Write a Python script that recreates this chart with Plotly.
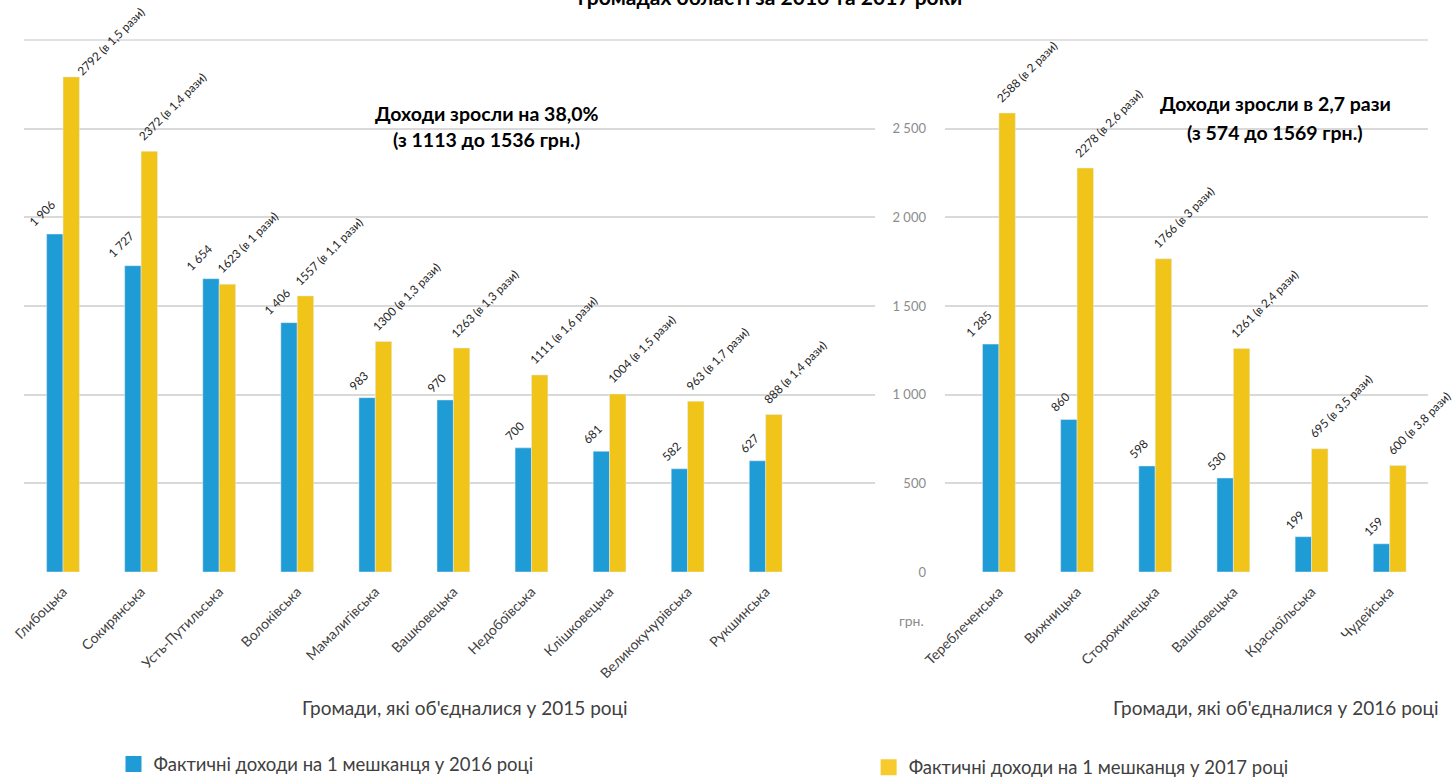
import plotly.graph_objects as go

# ---------------- data ----------------
cats_2015 = ["Глибоцька", "Сокирянська", "Усть-Путильська", "Волоківська", "Мамалигівська",
             "Вашковецька", "Недобоївська", "Клішковецька", "Великокучурівська", "Рукшинська"]
inc2016_a = [1906, 1727, 1654, 1406, 983, 970, 700, 681, 582, 627]
inc2017_a = [2792, 2372, 1623, 1557, 1300, 1263, 1111, 1004, 963, 888]
ratio_a = ["1,5", "1,4", "1", "1,1", "1,3", "1,3", "1,6", "1,5", "1,7", "1,4"]

cats_2016 = ["Тереблеченська", "Вижницька", "Сторожинецька", "Вашковецька", "Красноїльська", "Чудейська"]
inc2016_b = [1285, 860, 598, 530, 199, 159]
inc2017_b = [2588, 2278, 1766, 1261, 695, 600]
ratio_b = ["2", "2,6", "3", "2,4", "3,5", "3,8"]

y_ticks = [0, 500, 1000, 1500, 2000, 2500]
y_ticktext = ["0", "500", "1 000", "1 500", "2 000", "2 500"]

name_2016 = "Фактичні доходи на 1 мешканця у 2016 році"
name_2017 = "Фактичні доходи на 1 мешканця у 2017 році"

# ---------------- style ----------------
BLUE = "#1F9BD6"
YELLOW = "#F0C419"
GRID = "#D9D9D9"
FONT = "Lato"
TXT = "#404040"
Y_MAX = 3000

fig = go.Figure()

fig.add_trace(go.Bar(x=cats_2015, y=inc2016_a, name=name_2016, marker_color=BLUE,
                     xaxis="x", yaxis="y", showlegend=False, hoverinfo="x+y"))
fig.add_trace(go.Bar(x=cats_2015, y=inc2017_a, name=name_2017, marker_color=YELLOW,
                     xaxis="x", yaxis="y", showlegend=False, hoverinfo="x+y"))
fig.add_trace(go.Bar(x=cats_2016, y=inc2016_b, name=name_2016, marker_color=BLUE,
                     xaxis="x2", yaxis="y2", showlegend=False, hoverinfo="x+y"))
fig.add_trace(go.Bar(x=cats_2016, y=inc2017_b, name=name_2017, marker_color=YELLOW,
                     xaxis="x2", yaxis="y2", showlegend=False, hoverinfo="x+y"))

# legend entries (square swatches, no marks on the plot)
fig.add_trace(go.Scatter(x=[None], y=[None], mode="markers", name=name_2016, legend="legend",
                         marker=dict(symbol="square", size=16, color=BLUE), xaxis="x", yaxis="y"))
fig.add_trace(go.Scatter(x=[None], y=[None], mode="markers", name=name_2017, legend="legend2",
                         marker=dict(symbol="square", size=16, color="#F7CB2D"), xaxis="x", yaxis="y"))


def fmt(v):
    return f"{v:,}".replace(",", " ")


annotations = []
lab_font = dict(family=FONT, size=11.8, color="#262626")


def add_labels(cats, v16, v17, ratios, xr, yr):
    for c, a, b, r in zip(cats, v16, v17, ratios):
        annotations.append(dict(x=c, y=a, xref=xr, yref=yr, text=fmt(a), textangle=-45,
                                xanchor="right", yanchor="bottom", xshift=-1, yshift=2,
                                showarrow=False, font=lab_font))
        # labels of bars reaching close to the top are nudged right/down (as in the original)
        near_top = b > 0.9 * Y_MAX
        annotations.append(dict(x=c, y=b, xref=xr, yref=yr, text=f"{b} (в {r} рази)", textangle=-45,
                                xanchor="left", yanchor="bottom",
                                xshift=8 if near_top else -8, yshift=-4 if near_top else 5,
                                showarrow=False, font=lab_font))


add_labels(cats_2015, inc2016_a, inc2017_a, ratio_a, "x", "y")
add_labels(cats_2016, inc2016_b, inc2017_b, ratio_b, "x2", "y2")

bold = dict(family=FONT, size=19.5, color="#000000")


def note(x, y, text, font, **kw):
    d = dict(x=x, y=y, xref="paper", yref="paper", text=text, showarrow=False,
             xanchor="center", yanchor="middle", font=font)
    d.update(kw)
    return d


annotations += [
    note(0.3347, 0.8549, "<b>Доходи зросли на 38,0%</b>", bold),
    note(0.3347, 0.8203, "<b>(з 1113 до 1536 грн.)</b>", bold),
    note(0.8763, 0.8665, "<b>Доходи зросли в 2,7 рази</b>", bold),
    note(0.8763, 0.8293, "<b>(з 574 до 1569 грн.)</b>", bold),
    note(0.3196, 0.0924, "Громади, які об'єдналися у 2015 році", dict(family=FONT, size=19, color=TXT)),
    note(0.877, 0.0924, "Громади, які об'єдналися у 2016 році", dict(family=FONT, size=19, color=TXT)),
    note(0.6268, 0.2041, "грн.", dict(family=FONT, size=14, color="#8C8C8C")),
    note(0.529, 1.0, "<b>громадах області за 2016 та 2017 роки</b>",
         dict(family=FONT, size=21, color="#000000"), yanchor="bottom", yshift=-11),
]

ydom = [0.26573, 0.94865]
common_y = dict(range=[0, Y_MAX], tickvals=y_ticks, ticktext=y_ticktext, showgrid=True,
                gridcolor=GRID, gridwidth=1.5, zeroline=False, showline=False, fixedrange=True,
                automargin=False)
common_x = dict(type="category", tickangle=-45, showgrid=False, showline=False, ticks="",
                ticklabelstandoff=8,
                tickfont=dict(family=FONT, size=14, color=TXT), fixedrange=True, automargin=False)

fig.update_layout(
    width=1455, height=779,
    margin=dict(l=0, r=0, t=0, b=0, autoexpand=False),
    paper_bgcolor="white", plot_bgcolor="white",
    barmode="group", bargap=0.58, bargroupgap=0,
    font=dict(family=FONT, color=TXT),
    xaxis=dict(domain=[0.01649, 0.60137], range=[-0.5, 10.4], anchor="y", **common_x),
    yaxis=dict(domain=ydom, anchor="x", showticklabels=False, **common_y),
    xaxis2=dict(domain=[0.64948, 0.98144], range=[-0.69, 5.49], anchor="y2", **common_x),
    yaxis2=dict(domain=ydom, anchor="x2", showticklabels=True, ticklabelstandoff=18,
                tickfont=dict(family=FONT, size=13, color="#8C8C8C"), **common_y),
    legend=dict(x=0.078, y=0.0185, xanchor="left", yanchor="middle", orientation="h",
                font=dict(family=FONT, size=18.5, color=TXT), bgcolor="rgba(0,0,0,0)"),
    legend2=dict(x=0.597, y=0.0145, xanchor="left", yanchor="middle", orientation="h",
                 font=dict(family=FONT, size=18.5, color=TXT), bgcolor="rgba(0,0,0,0)"),
    annotations=annotations,
    shapes=[dict(type="line", xref="paper", yref="paper", x0=0.01649, x1=0.98144,
                 y0=ydom[1], y1=ydom[1], line=dict(color=GRID, width=1.5), layer="below")],
)

fig.write_html("out.html", config={"displayModeBar": False},
               post_script="document.body.style.margin='0';")
